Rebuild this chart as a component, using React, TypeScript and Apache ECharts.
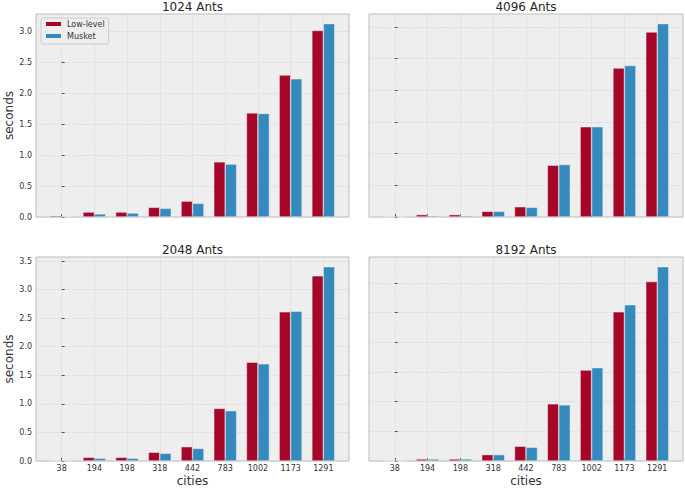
import React, { useEffect, useRef } from 'react';
import * as echarts from 'echarts';

const cities = ['38', '194', '198', '318', '442', '783', '1002', '1173', '1291'];
const seriesNames = ['Low-level', 'Musket'];

const lowLevel1024 = [0.02, 0.08, 0.08, 0.155, 0.256, 0.89, 1.68, 2.29, 3.01];
const musket1024 = [0.003, 0.05, 0.064, 0.14, 0.22, 0.854, 1.67, 2.23, 3.12];

const lowLevel4096 = [0.003, 0.037, 0.037, 0.089, 0.162, 0.817, 1.424, 2.35, 2.92];
const musket4096 = [0.002, 0.02, 0.02, 0.089, 0.152, 0.827, 1.424, 2.39, 3.05];

const lowLevel2048 = [0.003, 0.064, 0.064, 0.152, 0.25, 0.92, 1.73, 2.61, 3.24];
const musket2048 = [0.002, 0.047, 0.047, 0.135, 0.22, 0.88, 1.7, 2.62, 3.4];

const lowLevel8192 = [0.003, 0.034, 0.034, 0.107, 0.248, 0.962, 1.53, 2.51, 3.02];
const musket8192 = [0.002, 0.034, 0.034, 0.107, 0.231, 0.945, 1.57, 2.63, 3.27];

const panelTitles = ['1024 Ants', '4096 Ants', '2048 Ants', '8192 Ants'];
const yTickStep = 0.5;

const RED = '#A60628';
const BLUE = '#348ABD';
const FONT = 'DejaVu Sans';

export default function App() {
  const ref = useRef<HTMLDivElement>(null);
  useEffect(() => {
    document.body.style.margin = '0';
    const chart = echarts.init(ref.current!, null, { renderer: 'svg' });

    const panels = [
      { title: panelTitles[0], low: lowLevel1024, mus: musket1024, left: 36, top: 14, width: 313, height: 203, showY: true, showX: false },
      { title: panelTitles[1], low: lowLevel4096, mus: musket4096, left: 369, top: 14, width: 314, height: 203, showY: false, showX: false },
      { title: panelTitles[2], low: lowLevel2048, mus: musket2048, left: 36, top: 257, width: 313, height: 204, showY: true, showX: true },
      { title: panelTitles[3], low: lowLevel8192, mus: musket8192, left: 369, top: 257, width: 314, height: 204, showY: false, showX: true },
    ];

    const barW = 0.35;
    const n = cities.length;
    const span = n - 1 + 2 * barW;
    const xMin = -barW - 0.05 * span;
    const xMax = n - 1 + barW + 0.05 * span;
    const xTicks = cities.map((_, i) => i);
    const gridLine = { color: '#d4d4d4', width: 0.8, type: [1.5, 1.2] };

    const grids: any[] = [];
    const xAxes: any[] = [];
    const yAxes: any[] = [];
    const series: any[] = [];
    const graphics: any[] = [];

    panels.forEach((p, gi) => {
      grids.push({
        left: p.left, top: p.top, width: p.width, height: p.height,
        show: true, backgroundColor: '#eeeeee', borderColor: '#bcbcbc', borderWidth: 1,
      });
      xAxes.push({
        type: 'value', gridIndex: gi, min: xMin, max: xMax,
        axisLine: { show: false },
        axisTick: { show: true, inside: true, length: 3, customValues: xTicks, lineStyle: { color: '#555', width: 1 } },
        axisLabel: {
          show: p.showX, customValues: xTicks, margin: 3,
          formatter: (v: number) => cities[Math.round(v)] ?? '',
          fontFamily: FONT, fontSize: 8, color: '#333',
        },
        splitLine: { show: true, lineStyle: gridLine },
      });
      const ymax = Math.max(...p.low, ...p.mus) * 1.05;
      const yTicks: number[] = [];
      for (let v = 0; v <= ymax + 1e-9; v += yTickStep) yTicks.push(Math.round(v * 10) / 10);
      yAxes.push({
        type: 'value', gridIndex: gi, min: 0, max: ymax,
        axisLine: { show: false },
        axisTick: { show: true, inside: true, length: 3, customValues: yTicks, lineStyle: { color: '#555', width: 1 } },
        axisLabel: {
          show: p.showY, customValues: yTicks, margin: 4,
          formatter: (v: number) => v.toFixed(1),
          fontFamily: FONT, fontSize: 8, color: '#333',
        },
        splitLine: { show: true, lineStyle: gridLine },
      });
      const bw = (p.width * barW) / (xMax - xMin);
      [p.low, p.mus].forEach((arr, si) => {
        series.push({
          type: 'bar', name: seriesNames[si], xAxisIndex: gi, yAxisIndex: gi,
          data: arr.map((v, i) => [i, v]),
          barWidth: bw, barGap: '0%',
          itemStyle: { color: si === 0 ? RED : BLUE, borderColor: '#eeeeee', borderWidth: 0.5 },
        });
      });
      graphics.push({
        type: 'text', x: p.left + p.width / 2, y: p.top - 7,
        style: { text: p.title, align: 'center', verticalAlign: 'middle', fontFamily: FONT, fontSize: 12, fill: '#262626' },
      });
      if (p.showY) {
        graphics.push({
          type: 'text', x: 8.5, y: p.top + p.height / 2, rotation: Math.PI / 2,
          style: { text: 'seconds', align: 'center', verticalAlign: 'middle', fontFamily: FONT, fontSize: 12, fill: '#333' },
        });
      }
      if (p.showX) {
        graphics.push({
          type: 'text', x: p.left + p.width / 2, y: 481,
          style: { text: 'cities', align: 'center', verticalAlign: 'middle', fontFamily: FONT, fontSize: 12, fill: '#333' },
        });
      }
    });

    chart.setOption({
      animation: false,
      grid: grids,
      xAxis: xAxes,
      yAxis: yAxes,
      series,
      legend: {
        data: seriesNames, orient: 'vertical', left: 41, top: 18,
        padding: [2, 4, 4, 3], itemGap: 4, itemWidth: 17, itemHeight: 6,
        icon: 'rect', backgroundColor: '#eeeeee', borderColor: '#cccccc', borderWidth: 1, borderRadius: 2,
        textStyle: { fontFamily: FONT, fontSize: 8, color: '#333' },
      },
      graphic: graphics,
    });
    return () => chart.dispose();
  }, []);
  return <div ref={ref} style={{ position: 'absolute', left: 0, top: 0, width: 685, height: 489 }} />;
}
